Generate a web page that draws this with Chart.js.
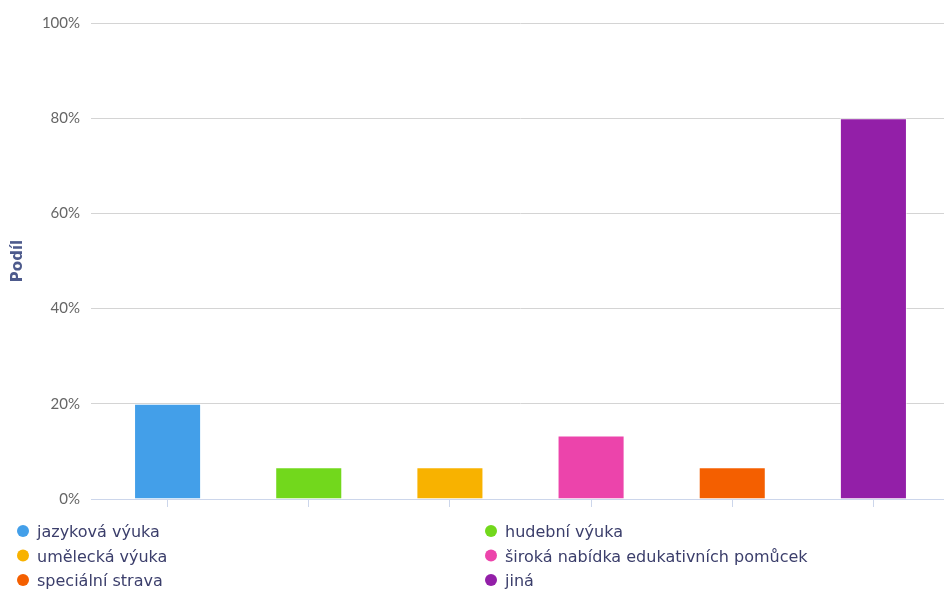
<!DOCTYPE html>
<html>
<head>
<meta charset="utf-8">
<script src="https://cdn.jsdelivr.net/npm/chart.js@4"></script>
<style>
  html, body { margin: 0; padding: 0; background: #fff; }
  #wrap { width: 944px; height: 590px; }
</style>
</head>
<body>
<div id="wrap"><canvas id="barChart" width="944" height="590"></canvas></div>
<script>
const categories = [
    'jazyková výuka',
    'hudební výuka',
    'umělecká výuka',
    'široká nabídka edukativních pomůcek',
    'speciální strava',
    'jiná'
];
const shares = [20, 6.67, 6.67, 13.33, 6.67, 80];
const colors = ['#439fe9', '#72d81c', '#f8b200', '#ec44ab', '#f45f00', '#931fa8'];
const yTicks = [0, 20, 40, 60, 80, 100];

// legend drawn in two fixed columns under the plot
const columnLegend = {
    id: 'columnLegend',
    afterDraw(chart) {
        const ctx = chart.ctx;
        ctx.save();
        ctx.font = '16px "DejaVu Sans"';
        ctx.textBaseline = 'middle';
        categories.forEach((name, i) => {
            const col = i % 2;
            const row = Math.floor(i / 2);
            const x = col === 0 ? 23 : 491;
            const y = 532 + row * 24.5;
            ctx.fillStyle = colors[i];
            ctx.beginPath();
            ctx.arc(x, y - 1, 6, 0, Math.PI * 2);
            ctx.fill();
            ctx.fillStyle = '#3b3e6b';
            ctx.fillText(name, x + 14, y + 1);
        });
        ctx.restore();
    }
};

let barChart = new Chart(document.getElementById('barChart'), {
    type: 'bar',
    data: {
        labels: categories,
        datasets: [
            {
                label: 'Podíl',
                data: shares,
                backgroundColor: colors,
                borderColor: 'rgba(255,255,255,0.6)',
                borderWidth: 1,
                categoryPercentage: 1,
                barPercentage: 0.475
            }
        ]
    },
    options: {
        responsive: false,
        animation: false,
        layout: { padding: { top: 23, right: -6, bottom: 83, left: 0 } },
        plugins: {
            legend: { display: false },
            tooltip: { enabled: false }
        },
        scales: {
            x: {
                grid: {
                    offset: false,
                    drawOnChartArea: false,
                    drawTicks: true,
                    tickLength: 8,
                    color: '#ccd6eb'
                },
                border: { color: '#ccd6eb', width: 1 },
                ticks: { display: false }
            },
            y: {
                min: 0,
                max: 100,
                afterBuildTicks: (axis) => { axis.ticks = yTicks.map(v => ({ value: v })); },
                afterFit: (axis) => { axis.width = 97; },
                grid: {
                    color: (c) => c.tick && c.tick.value === 0 ? '#ccd6eb' : '#d4d4d4',
                    drawTicks: true,
                    tickLength: 6
                },
                border: { display: false },
                ticks: {
                    padding: 11,
                    color: '#666666',
                    font: { family: 'Lato', size: 15 },
                    callback: (v) => v + '%'
                },
                title: {
                    display: true,
                    text: 'Podíl',
                    color: '#4d5a8c',
                    padding: { top: 9, bottom: 0 },
                    font: { family: 'DejaVu Sans', size: 15, weight: 'bold' }
                }
            }
        }
    },
    plugins: [columnLegend]
});
</script>
</body>
</html>
